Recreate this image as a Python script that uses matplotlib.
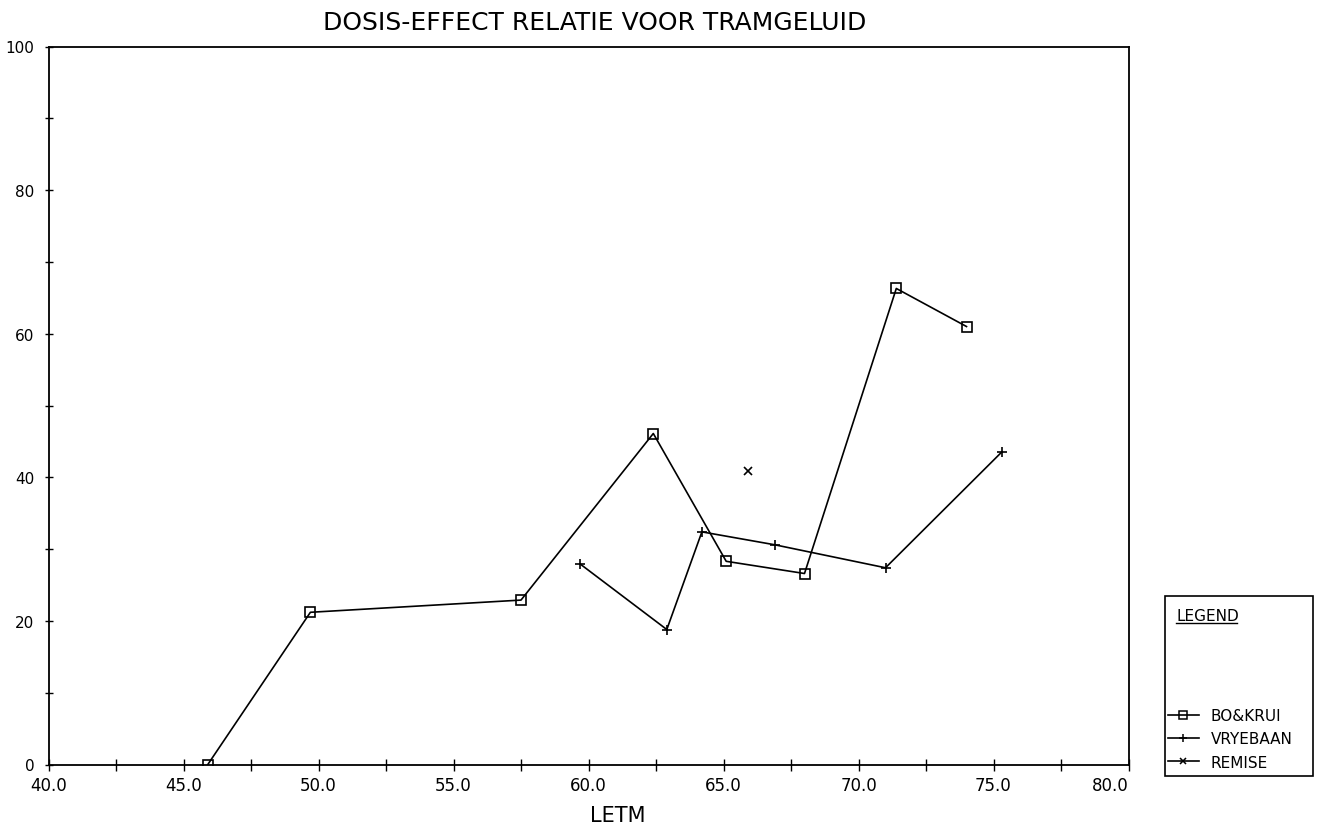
import matplotlib
matplotlib.use("Agg")
from matplotlib import pyplot as plt
from matplotlib.lines import Line2D
from matplotlib.patches import Rectangle
from matplotlib.ticker import MultipleLocator, FormatStrFormatter

# meetpunten per locatie (LETM in dB(A), percentage gehinderden)
bokrui_x = [45.9, 49.7, 57.5, 62.4, 65.1, 68.0, 71.4, 74.0]
bokrui_y = [0.0, 21.2, 22.9, 46.1, 28.3, 26.6, 66.3, 61.0]

vryebaan_x = [59.7, 62.9, 64.2, 66.9, 71.0, 75.3]
vryebaan_y = [27.9, 18.8, 32.4, 30.6, 27.4, 43.5]

remise_x = [65.9]
remise_y = [40.9]

reeksen = ["BO&KRUI", "VRYEBAAN", "REMISE"]

W, H = 1317, 829
fig = plt.figure(figsize=(W / 100, H / 100), dpi=100)
ax = fig.add_axes([48.5 / W, (H - 765.5) / H, 1080 / W, 718 / H])

ax.plot(bokrui_x, bokrui_y, color="black", linewidth=1.2, marker="s",
        markersize=6.5, markerfacecolor="none", markeredgecolor="black",
        markeredgewidth=1.2)
ax.plot(vryebaan_x, vryebaan_y, color="black", linewidth=1.2, marker="+",
        markersize=7, markeredgewidth=1.2)
ax.plot(remise_x, remise_y, linestyle="none", marker="x", markersize=6,
        color="black", markeredgewidth=1.2)

ax.set_xlim(40, 80)
ax.set_ylim(0, 100)
ax.xaxis.set_major_locator(MultipleLocator(5))
ax.xaxis.set_minor_locator(MultipleLocator(2.5))
ax.xaxis.set_major_formatter(FormatStrFormatter("%.1f"))
ax.yaxis.set_major_locator(MultipleLocator(20))
ax.yaxis.set_minor_locator(MultipleLocator(10))

ax.tick_params(axis="x", which="both", direction="inout", length=9, width=1,
               labelsize=12, pad=4)
ax.tick_params(axis="y", which="both", direction="inout", length=6, width=1,
               labelsize=11, pad=7)
for s in ax.spines.values():
    s.set_linewidth(1.3)

# laatste x-label eindigt bij de as
fig.canvas.draw()
for tick in ax.xaxis.get_major_ticks():
    if abs(tick.get_loc() - 80) < 1e-6:
        tick.label1.set_horizontalalignment("right")

fig.text(618 / W, 1 - 816 / H, "LETM", fontsize=15, ha="center", va="center")
fig.text(595 / W, 1 - 23 / H, "DOSIS-EFFECT RELATIE VOOR TRAMGELUID",
         fontsize=18, ha="center", va="center")

# legenda: kader, kop met onderstreping en de drie reeksen
fig.add_artist(Rectangle((1165 / W, 1 - 777 / H), 148 / W, 180 / H,
                         transform=fig.transFigure, fill=False,
                         edgecolor="black", linewidth=1.2))
fig.text(1176 / W, 1 - 617 / H, "LEGEND", fontsize=11, ha="left",
         va="center")
fig.add_artist(Line2D([1176 / W, 1237 / W], [1 - 624 / H, 1 - 624 / H],
                      color="black", linewidth=1.0))

handles = [
    Line2D([], [], color="black", linewidth=1.2, marker="s", markersize=6,
           markerfacecolor="none", markeredgewidth=1.1),
    Line2D([], [], color="black", linewidth=1.2, marker="+", markersize=6,
           markeredgewidth=1.1),
    Line2D([], [], color="black", linewidth=1.2, marker="x", markersize=5,
           markeredgewidth=1.1),
]
fig.legend(handles, reeksen, loc="upper left",
           bbox_to_anchor=(1168 / W, 1 - 709 / H), frameon=False,
           fontsize=11, handlelength=2.0, handletextpad=0.8,
           labelspacing=0.55, borderpad=0, borderaxespad=0)

fig.savefig("out.png", dpi=100)
